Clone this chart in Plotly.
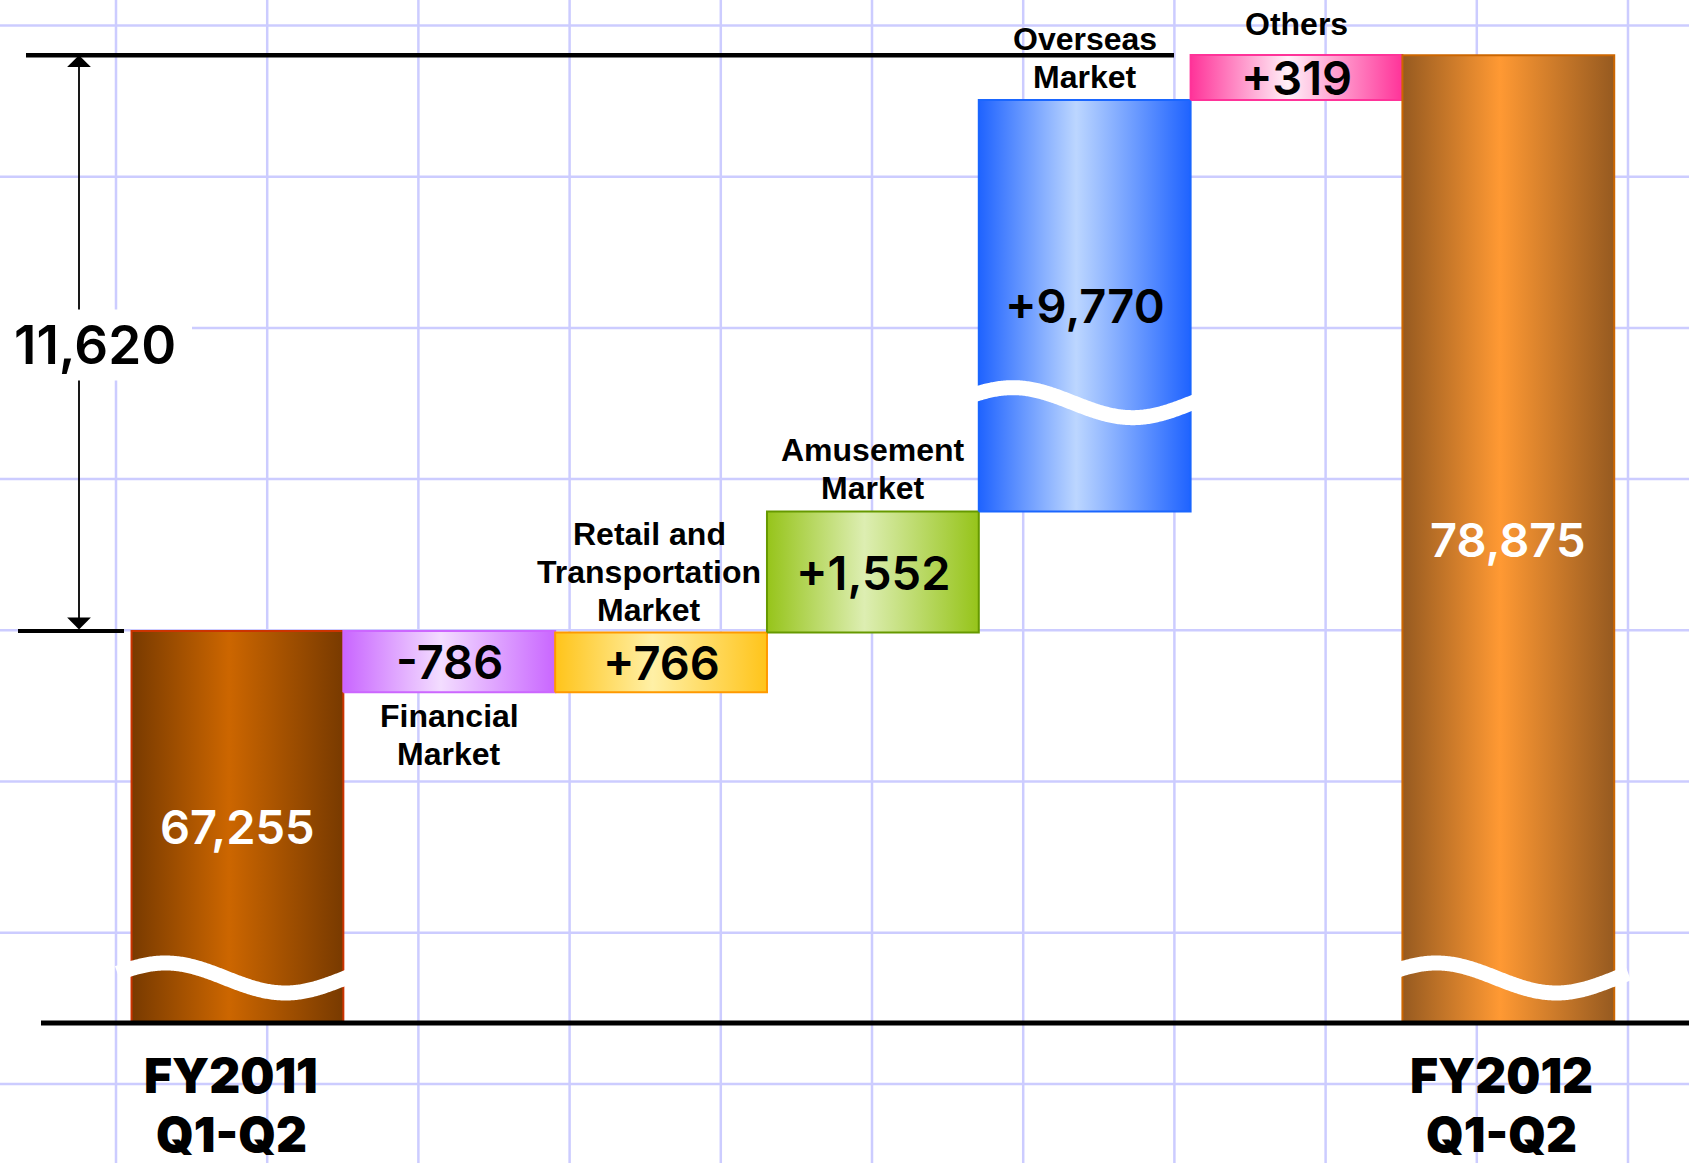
import numpy as np
import plotly.graph_objects as go

W, H = 1689, 1163

# ---------------- data ----------------
CATEGORIES = ["FY2011 Q1-Q2", "Financial Market", "Retail and Transportation Market",
              "Amusement Market", "Overseas Market", "Others", "FY2012 Q1-Q2"]
START_TOTAL = 67255
CHANGES = [-786, 766, 1552, 9770, 319]
END_TOTAL = 78875
VALUE_LABELS = ["67,255", "-786", "+766", "+1,552", "+9,770", "+319", "78,875"]
CATEGORY_LINES = [["FY2011", "Q1-Q2"], ["Financial", "Market"],
                  ["Retail and", "Transportation", "Market"],
                  ["Amusement", "Market"], ["Overseas", "Market"], ["Others"],
                  ["FY2012", "Q1-Q2"]]
DIFF_LABEL = "11,620"

# ---------------- styles ----------------
EDGE = ["#783a00", "#c966ff", "#ffc41a", "#96c41a", "#1f63ff", "#ff3399", "#965a20"]
CENTER = ["#cc6600", "#f3ddff", "#fff0a6", "#ddeeb2", "#bcd6ff", "#fff0f8", "#ff9933"]
OUTLINE = ["#cc3300", "#cc66ff", "#ff9900", "#669900", "#1a66ff", "#ff3399", "#cc6600"]
VALUE_COLOR = ["white", "black", "black", "black", "black", "black", "white"]
LABEL_SIDE = ["bottom", "below", "above", "above", "above", "above", "bottom"]

FONT = "Liberation Sans, Arial, Helvetica, sans-serif"
NUM_FONT = "Inter, Liberation Sans, Arial, sans-serif"
GRID_COLOR = "#ccccff"

# broken value axis: (from value, to value, pixels per unit)
BASE_PX = 140
SCALE_SEGMENTS = [
    (0, 545, 0.078),
    (545, 62838, 5 / 62293),       # axis break (bottom)
    (62838, 70150, 0.078),
    (70150, 74710, 5 / 4560),      # axis break (inside overseas bar)
    (74710, 78556, 0.078),
    (78556, 90000, 0.141),
]
BREAKS = [(545, 62838), (70150, 74710)]


def ypos(v):
    p = BASE_PX
    for a, b, k in SCALE_SEGMENTS:
        if v <= a:
            break
        p += (min(v, b) - a) * k
    return p


# x axis: bar i centered at i, width 1
X0, X1 = -1.121, 6.853
PX_PER_X = W / (X1 - X0)


def xpx(px):
    return X0 + px / PX_PER_X


n = len(CATEGORIES)
bottoms, tops = [0], [START_TOTAL]
level = START_TOTAL
for d in CHANGES:
    new = level + d
    bottoms.append(min(level, new))
    tops.append(max(level, new))
    level = new
bottoms.append(0)
tops.append(END_TOTAL)

fig = go.Figure()

# bars (gradient-filled polygons on the broken axis)
for i in range(n):
    b, t = ypos(bottoms[i]), ypos(tops[i])
    fig.add_trace(go.Scatter(
        x=[i - .5, i + .5, i + .5, i - .5, i - .5], y=[b, b, t, t, b],
        mode="lines", fill="toself",
        line=dict(color=OUTLINE[i], width=2),
        fillgradient=dict(type="horizontal",
                          colorscale=[[0, EDGE[i]], [0.46, CENTER[i]], [1, EDGE[i]]],
                          start=i - .5, stop=i + .5),
        hoverinfo="skip", showlegend=False))

# wavy break marks
ext = 14 / PX_PER_X
u = np.linspace(0, 1, 200)
for i in range(n):
    if i in (0, n - 1):
        brks = [BREAKS[0]]
    else:
        brks = [bk for bk in BREAKS if bottoms[i] < bk[0] and tops[i] > bk[1]]
    for bk in brks:
        c = (ypos(bk[0]) + ypos(bk[1])) / 2
        xs = (i - .5 - ext) + u * (1 + 2 * ext)
        ys = c + 15 * np.cos(2 * np.pi * (u - 0.2))
        fig.add_trace(go.Scatter(x=xs, y=ys, mode="lines",
                                 line=dict(color="white", width=15, simplify=False),
                                 hoverinfo="skip", showlegend=False))

shapes = []
# graph-paper grid
GRID = 151.2
gx = 116.0
while gx < W:
    shapes.append(dict(type="line", xref="paper", yref="paper", x0=gx / W, x1=gx / W,
                       y0=0, y1=1, line=dict(color=GRID_COLOR, width=2.5), layer="below"))
    gx += GRID
gy = 25.5
while gy < H:
    shapes.append(dict(type="line", xref="paper", yref="paper", x0=0, x1=1,
                       y0=1 - gy / H, y1=1 - gy / H, line=dict(color=GRID_COLOR, width=2.5),
                       layer="below"))
    gy += GRID
# white box behind the difference label
diff_y = (ypos(START_TOTAL) + ypos(END_TOTAL)) / 2 - 2
shapes.append(dict(type="rect", xref="paper", yref="y", x0=0, x1=192 / W,
                   y0=diff_y - 26, y1=diff_y + 32, fillcolor="white",
                   line=dict(width=0), layer="below"))

# reference lines
shapes.append(dict(type="line", xref="paper", yref="y", x0=26 / W, x1=1174 / W,
                   y0=ypos(END_TOTAL), y1=ypos(END_TOTAL), line=dict(color="black", width=4.5)))
shapes.append(dict(type="line", xref="paper", yref="y", x0=18 / W, x1=124 / W,
                   y0=ypos(START_TOTAL), y1=ypos(START_TOTAL), line=dict(color="black", width=4)))
shapes.append(dict(type="line", xref="paper", yref="y", x0=41 / W, x1=1,
                   y0=ypos(0), y1=ypos(0), line=dict(color="black", width=5)))

annotations = []
# double arrow for the difference
ax_x = xpx(79)
annotations.append(dict(x=ax_x, y=ypos(END_TOTAL), ax=ax_x, ay=ypos(START_TOTAL),
                        xref="x", yref="y", axref="x", ayref="y", text="",
                        showarrow=True, arrowside="end+start", arrowhead=1, startarrowhead=1,
                        arrowsize=2.2, startarrowsize=2.2, arrowwidth=1.8, arrowcolor="black",
                        standoff=0, startstandoff=0))
annotations.append(dict(x=xpx(95), y=diff_y, xref="x", yref="y", text=DIFF_LABEL,
                        showarrow=False, bgcolor="white", borderpad=3,
                        font=dict(family=NUM_FONT, size=53, weight=600, color="black")))

# value labels
for i in range(n):
    mid = (ypos(bottoms[i]) + ypos(tops[i])) / 2
    annotations.append(dict(x=i, y=mid, xref="x", yref="y", text=VALUE_LABELS[i],
                            showarrow=False,
                            font=dict(family=NUM_FONT, size=47, weight=600,
                                      color=VALUE_COLOR[i])))

# category labels
LS = 38
for i in range(n):
    lines = CATEGORY_LINES[i]
    side = LABEL_SIDE[i]
    if side == "bottom":
        for k, s in enumerate(lines):
            annotations.append(dict(x=i - 0.03, y=ypos(0) - 52 - 59 * k, xref="x", yref="y",
                                    text=s, showarrow=False, borderpad=0,
                                    font=dict(family=NUM_FONT, size=48, weight=900,
                                              color="black")))
    elif side == "below":
        for k, s in enumerate(lines):
            annotations.append(dict(x=i, y=ypos(bottoms[i]) - 24 - LS * k, xref="x", yref="y",
                                    text="<b>%s</b>" % s, showarrow=False,
                                    font=dict(family=FONT, size=32, color="black")))
    else:
        m = len(lines)
        xoff = -0.055 if m == 3 else 0
        gap = 23 if m > 1 else 31
        for k, s in enumerate(lines):
            annotations.append(dict(x=i + xoff, y=ypos(tops[i]) + gap + LS * (m - 1 - k),
                                    xref="x", yref="y",
                                    text="<b>%s</b>" % s, showarrow=False,
                                    font=dict(family=FONT, size=32, color="black")))

fig.update_layout(
    width=W, height=H, margin=dict(l=0, r=0, t=0, b=0),
    paper_bgcolor="white", plot_bgcolor="white",
    xaxis=dict(range=[X0, X1], visible=False, fixedrange=True),
    yaxis=dict(range=[0, H], visible=False, fixedrange=True),
    shapes=shapes, annotations=annotations, showlegend=False,
)

fig.write_html("out.html", config={"displayModeBar": False})
